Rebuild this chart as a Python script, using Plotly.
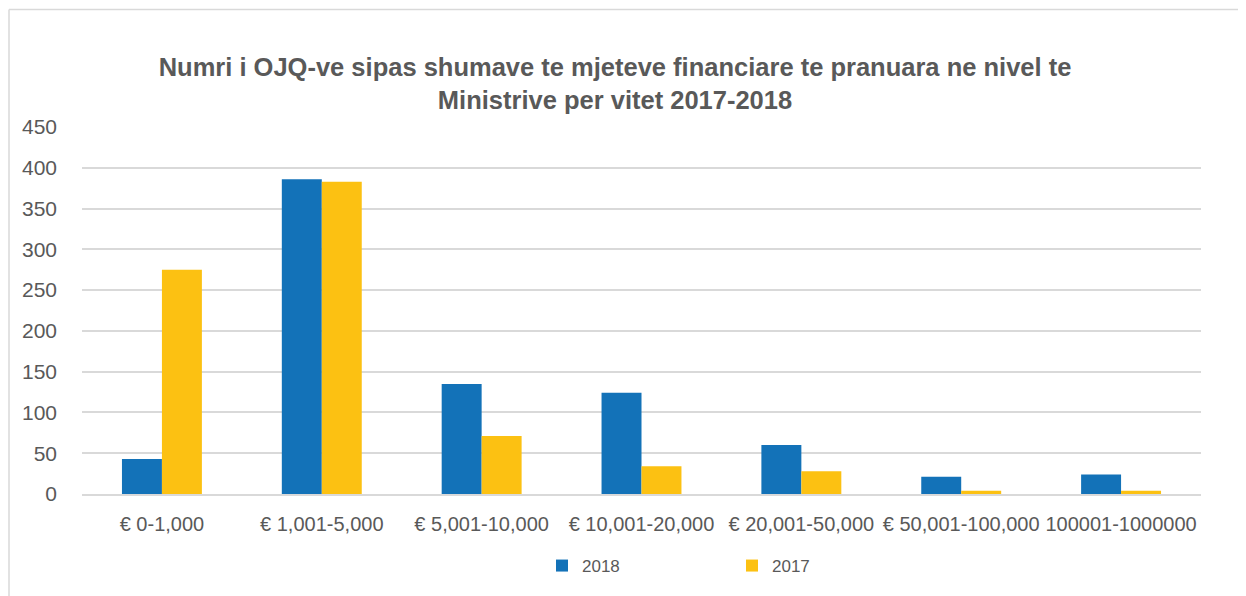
import plotly.graph_objects as go

categories = ["€ 0-1,000", "€ 1,001-5,000", "€ 5,001-10,000", "€ 10,001-20,000",
              "€ 20,001-50,000", "€ 50,001-100,000", "100001-1000000"]
values_2018 = [43, 386, 135, 124, 60, 21, 24]
values_2017 = [275, 383, 71, 34, 28, 4, 4]
y_ticks = [0, 50, 100, 150, 200, 250, 300, 350, 400, 450]

title_text = ("Numri i OJQ-ve sipas shumave te mjeteve financiare te pranuara ne nivel te"
              "<br>Ministrive per vitet 2017-2018")

# page has an 8px body margin; work in page pixels and convert
O = 8
W, H = 1246 - O, 596 - O
PL, PR, PT, PB = 82, 1201, 127, 494   # plot area in page pixels
ML = PL - O
MR = W - (PR - O)
MT = PT - O
MB = H - (PB - O)
PW = W - ML - MR
PH = H - MT - MB

FONT = "Liberation Sans, Arial, sans-serif"
GREY = "#595959"

fig = go.Figure()
fig.add_trace(go.Bar(x=categories, y=values_2018, name="2018",
                     marker=dict(color="#1372B8", line=dict(width=0))))
fig.add_trace(go.Bar(x=categories, y=values_2017, name="2017",
                     marker=dict(color="#FCC112", line=dict(width=0))))

def px_x(p):
    return (p - PL) / PW

def px_y(p):
    return (PB - p) / PH

fig.update_layout(
    width=W, height=H,
    margin=dict(l=ML, r=MR, t=MT, b=MB, autoexpand=False),
    paper_bgcolor="white", plot_bgcolor="white",
    barmode="group", bargap=0.5, bargroupgap=0,
    title=dict(text=title_text, x=(615 - O) / W, xanchor="center",
               y=1 - (76 - O) / H, yanchor="middle",
               font=dict(family=FONT, size=25.5, color=GREY, weight="bold"),
               ),
    font=dict(family=FONT, color=GREY),
    xaxis=dict(showgrid=False, showline=True, linecolor="#d9d9d9", linewidth=1.5,
               tickangle=0, automargin=False,
               tickfont=dict(size=20, color=GREY), ticks="", ticklabelstandoff=11),
    yaxis=dict(range=[0, 450], tickvals=y_ticks, showgrid=True, gridcolor="#d9d9d9",
               gridwidth=1.5, zeroline=False, showline=False, automargin=False,
               tickfont=dict(size=21, color=GREY), ticks="", ticklabelstandoff=24),
    legend=dict(orientation="h", x=px_x(542), xanchor="left", y=px_y(566), yanchor="middle",
                font=dict(size=17, color=GREY), entrywidth=145, entrywidthmode="pixels",
                itemwidth=30, traceorder="normal"),
    shapes=[
        dict(type="line", xref="paper", yref="paper", x0=px_x(9), x1=px_x(1246), y0=px_y(9.5), y1=px_y(9.5),
             line=dict(color="#d9d9d9", width=1.5)),
        dict(type="line", xref="paper", yref="paper", x0=px_x(9), x1=px_x(9), y0=px_y(9.5), y1=px_y(596),
             line=dict(color="#d9d9d9", width=1.5)),
    ],
)

fig.write_html("out.html")
